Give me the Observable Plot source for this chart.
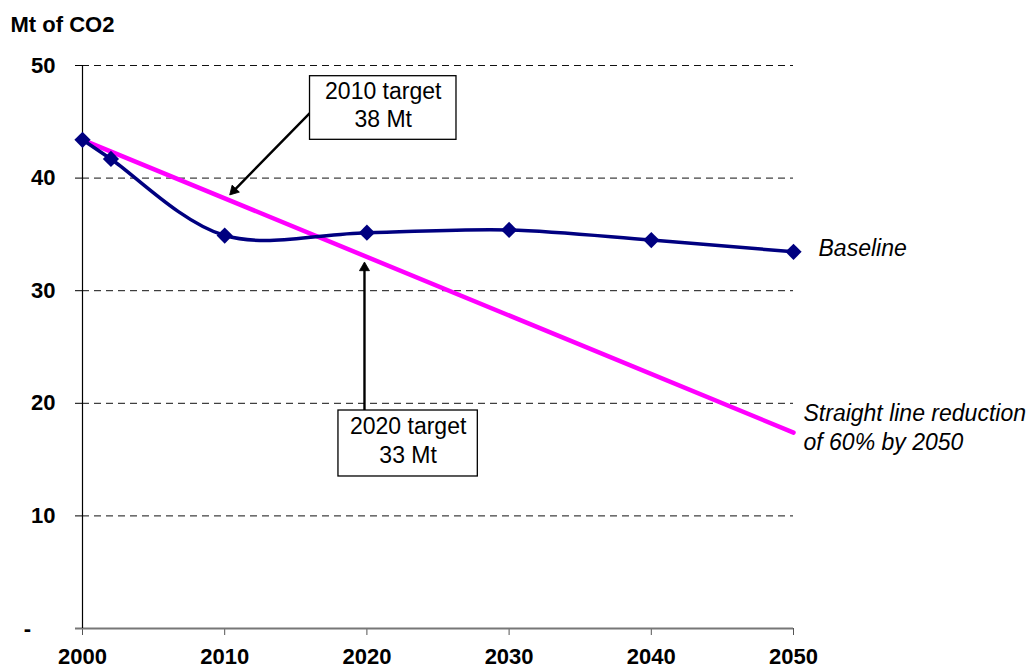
<!DOCTYPE html>
<html>
<head>
<meta charset="utf-8">
<script src="https://cdn.jsdelivr.net/npm/d3@7"></script>
<script src="https://cdn.jsdelivr.net/npm/@observablehq/plot@0.6"></script>
<style>
  html, body { margin: 0; padding: 0; background: #fff; }
  #chart svg { display: block; }
</style>
</head>
<body>
<div id="chart"></div>
<script>
// ---- Data ----
const years = [2000, 2002, 2010, 2020, 2030, 2040, 2050];
const baselineValues = [43.4, 41.7, 34.9, 35.15, 35.4, 34.5, 33.45];

const targetYears = [2000, 2050];
const targetValues = [43.4, 17.4];

const xTicks = [2000, 2010, 2020, 2030, 2040, 2050];
const yTicks = [0, 10, 20, 30, 40, 50];
const yTickLabels = ["-\u2007\u2007", "10", "20", "30", "40", "50"];

const seriesLabels = ["Baseline", "Straight line reduction\nof 60% by 2050"];
const yTitle = "Mt of CO2";

// annotation callouts (data coordinates)
const boxLabels = ["2010 target\n38 Mt", "2020 target\n33 Mt"];
const boxX1 = [2016.0, 2018.0];
const boxX2 = [2026.3, 2027.8];
const boxY1 = [43.4, 13.5];
const boxY2 = [49.05, 19.36];
const arrowFromX = [2016.0, 2019.83];
const arrowFromY = [45.8, 19.36];
const arrowToX = [2010.27, 2019.83];
const arrowToY = [38.4, 32.7];

// ---- Build tables ----
const baseline = years.map((x, i) => ({x, y: baselineValues[i]}));
const target = targetYears.map((x, i) => ({x, y: targetValues[i]}));
const boxes = boxLabels.map((label, i) => ({label, x1: boxX1[i], x2: boxX2[i], y1: boxY1[i], y2: boxY2[i]}));
const arrows = arrowFromX.map((x1, i) => ({x1, y1: arrowFromY[i], x2: arrowToX[i], y2: arrowToY[i]}));

const FONT = "Liberation Sans, Arial, sans-serif";
const headR = 4.8;

const chart = Plot.plot({
  width: 1028,
  height: 671,
  marginLeft: 82,
  marginRight: 235,
  marginTop: 65,
  marginBottom: 43,
  style: {fontFamily: FONT, background: "#fff", overflow: "visible"},
  x: {domain: [2000, 2050]},
  y: {domain: [0, 50]},
  marks: [
    Plot.gridY(yTicks.filter(d => d > 0), {stroke: "#111", strokeOpacity: 1, strokeWidth: 1, strokeDasharray: "7,5"}),
    Plot.axisY(yTicks, {
      tickSize: 7, tickPadding: 20, fontSize: 22, fontWeight: "bold", fill: "#000",
      tickFormat: (d) => yTickLabels[yTicks.indexOf(d)], label: null, stroke: "#000"
    }),
    Plot.axisX(xTicks, {
      tickSize: 7, tickPadding: 13, fontSize: 22, fontWeight: "bold", fill: "#000",
      tickFormat: (d) => String(d), label: null, stroke: "#555"
    }),
    Plot.ruleY([0], {stroke: "#777", strokeWidth: 1.8, insetLeft: -7}),
    Plot.ruleX([2000], {stroke: "#000", strokeWidth: 1.2}),
    Plot.line(target, {x: "x", y: "y", stroke: "#FF00FF", strokeWidth: 4.5}),
    Plot.line(baseline, {x: "x", y: "y", stroke: "#000080", strokeWidth: 3.5, curve: "cardinal"}),
    Plot.dot(baseline, {x: "x", y: "y", symbol: "diamond2", r: 7.3, fill: "#000080", stroke: "none"}),
    Plot.arrow(arrows, {x1: "x1", y1: "y1", x2: "x2", y2: "y2", stroke: "#000", strokeWidth: 2.4, headLength: 0, insetEnd: 7}),
    Plot.dot([arrows[0]], {x: "x2", y: "y2", symbol: "triangle2", r: headR, rotate: 224, dx: 5.2, dy: -5.4, fill: "#000", stroke: "#000", strokeWidth: 0.8}),
    Plot.dot([arrows[1]], {x: "x2", y: "y2", symbol: "triangle2", r: headR, rotate: 0, dy: 7.5, fill: "#000", stroke: "#000", strokeWidth: 0.8}),
    Plot.rect(boxes, {x1: "x1", x2: "x2", y1: "y1", y2: "y2", fill: "#fff", stroke: "#000", strokeWidth: 1.3}),
    Plot.text(boxes, {
      x: d => (d.x1 + d.x2) / 2, y: d => (d.y1 + d.y2) / 2, text: "label", dy: -4,
      fontSize: 23, lineHeight: 1.24, fill: "#000", lineAnchor: "middle"
    }),
    Plot.text([baseline[baseline.length - 1]], {
      x: "x", y: "y", text: () => seriesLabels[0], dx: 25, dy: -3,
      textAnchor: "start", fontSize: 23, fontStyle: "italic", fill: "#000"
    }),
    Plot.text([target[target.length - 1]], {
      x: "x", y: "y", text: () => seriesLabels[1], dx: 10, dy: -6, lineHeight: 1.24,
      textAnchor: "start", fontSize: 23, fontStyle: "italic", fill: "#000", lineAnchor: "middle"
    }),
    Plot.text([yTitle], {
      frameAnchor: "top-left", dx: -72, dy: -41, textAnchor: "start", lineAnchor: "middle",
      fontSize: 22, fontWeight: "bold", fill: "#000"
    })
  ]
});

document.getElementById("chart").appendChild(chart);
</script>
</body>
</html>
